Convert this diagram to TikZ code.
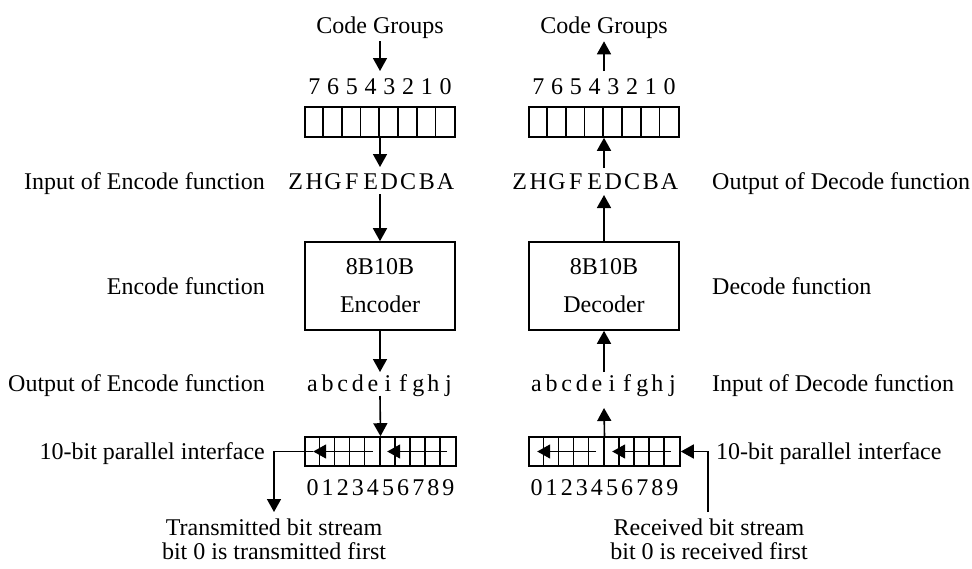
\documentclass[tikz,border=0pt]{standalone}
\usepackage{fontspec}
\setmainfont{Liberation Serif}
\usetikzlibrary{arrows.meta,calc}
\begin{document}
\begin{tikzpicture}[x=1pt,y=-1pt,
  every node/.style={font=\fontsize{24}{28}\selectfont, inner sep=0pt},
  lbl/.style={anchor=base},
  lblE/.style={anchor=base east},
  lblW/.style={anchor=base west},
  ln/.style={line width=1.6pt},
  reg/.style={draw, line width=1.6pt, minimum width=150pt, minimum height=30pt},
  breg/.style={draw, line width=1.6pt, minimum width=151pt, minimum height=29pt},
  box/.style={draw, line width=1.6pt, minimum width=150pt, minimum height=88pt, align=center, font=\fontsize{24}{38}\selectfont},
  arr/.style={line width=1.6pt, -{Triangle[length=13pt,width=14pt]}}]
\useasboundingbox (0,0) rectangle (972,568);

% ---------------- left (encoder) column ----------------
\node[lbl] (cgL) at (380,33) {Code Groups};
\coordinate (tL1) at (380,71);
\draw[arr, shorten <=3pt] (cgL) -- (tL1);
\foreach \d [count=\i from 0] in {7,6,5,4,3,2,1,0}
  \node[lbl] (dTL\i) at (314.4+\i*18.75,94) {\d};
\node[reg] (rTL) at (380,122) {};
\foreach \i in {1,...,7}
  \draw[ln] ($(rTL.north west)+(\i*18.75,0)$) -- ($(rTL.south west)+(\i*18.75,0)$);
\coordinate (tL2) at (380,167);
\draw[arr] (rTL.south) -- (tL2);
\foreach \c [count=\i from 0] in {Z,H,G,F,E,D,C,B,A}
  \node[lbl] (zL\i) at (295.6+\i*18.75,189) {\c};
\coordinate (tL3) at (380,194);
\node[box] (boxL) at (380,286) {8B10B\\Encoder};
\draw[arr] (tL3) -- (boxL.north);
\coordinate (tL4) at (380,372);
\draw[arr] (boxL.south) -- (tL4);
\foreach \c [count=\i from 0] in {a,b,c,d,e,i,f,g,h,j}
  \node[lbl] (bL\i) at (312.55+\i*15.1,391) {\c};
\coordinate (tL5) at (380,396);
\node[breg] (rBL) at (380.5,451.5) {};
\foreach \i in {1,...,9}
  \draw[ln] ($(rBL.north west)+(\i*15.1,0)$) -- ($(rBL.south west)+(\i*15.1,0)$);
\draw[arr] (tL5) -- (rBL.north);
\foreach \d [count=\i from 0] in {0,1,2,3,4,5,6,7,8,9}
  \node[lbl] (nL\i) at (312.55+\i*15.1,495) {\d};
\coordinate (pL0) at ($(rBL.west)+(9,0)$);
\draw[arr] ($(rBL.west)+(69,0)$) -- (pL0);
\draw[arr] ($(rBL.west)+(143,0)$) -- ($(rBL.west)+(83,0)$);
\coordinate (extL) at (274,451.5);
\coordinate (outL) at (274,512);
\draw[arr] (pL0) -- (extL) -- (outL);

% left labels
\node[lblE] (l1) at (265,189) {Input of Encode function};
\node[lblE] (l2) at (265,294) {Encode function};
\node[lblE] (l3) at (265,391) {Output of Encode function};
\node[lblE] (l4) at (265,459) {10-bit parallel interface};
\node[lbl] (l5) at (274,535) {Transmitted bit stream};
\node[lbl] (l6) at (274,559) {bit 0 is transmitted first};

% ---------------- right (decoder) column ----------------
\node[lbl] (cgR) at (604,33) {Code Groups};
\coordinate (tR1) at (604,71);
\draw[arr, shorten >=3pt] (tR1) -- (cgR);
\foreach \d [count=\i from 0] in {7,6,5,4,3,2,1,0}
  \node[lbl] (dTR\i) at (538.4+\i*18.75,94) {\d};
\node[reg] (rTR) at (604,122) {};
\foreach \i in {1,...,7}
  \draw[ln] ($(rTR.north west)+(\i*18.75,0)$) -- ($(rTR.south west)+(\i*18.75,0)$);
\coordinate (tR2) at (604,168);
\draw[arr] (tR2) -- (rTR.south);
\foreach \c [count=\i from 0] in {Z,H,G,F,E,D,C,B,A}
  \node[lbl] (zR\i) at (519.6+\i*18.75,189) {\c};
\coordinate (tR3) at (604,195);
\node[box] (boxR) at (604,286) {8B10B\\Decoder};
\draw[arr] (boxR.north) -- (tR3);
\coordinate (tR4) at (604,372);
\draw[arr] (tR4) -- (boxR.south);
\foreach \c [count=\i from 0] in {a,b,c,d,e,i,f,g,h,j}
  \node[lbl] (bR\i) at (536.55+\i*15.1,391) {\c};
\coordinate (tR5) at (604,408);
\node[breg] (rBR) at (604.5,451.5) {};
\foreach \i in {1,...,9}
  \draw[ln] ($(rBR.north west)+(\i*15.1,0)$) -- ($(rBR.south west)+(\i*15.1,0)$);
\draw[arr] (rBR.north) -- (tR5);
\foreach \d [count=\i from 0] in {0,1,2,3,4,5,6,7,8,9}
  \node[lbl] (nR\i) at (536.55+\i*15.1,495) {\d};
\draw[arr] ($(rBR.west)+(143,0)$) -- ($(rBR.west)+(84,0)$);
\draw[arr] ($(rBR.west)+(68,0)$) -- ($(rBR.west)+(9,0)$);
\coordinate (inR) at (708,512);
\coordinate (extR) at (708,451.5);
\draw[arr] (inR) -- (extR) -- (rBR.east);

% right labels
\node[lblW] (r1) at (712,189) {Output of Decode function};
\node[lblW] (r2) at (712,294) {Decode function};
\node[lblW] (r3) at (712,391) {Input of Decode function};
\node[lblW] (r4) at (716,459) {10-bit parallel interface};
\node[lbl] (r5) at (709,535) {Received bit stream};
\node[lbl] (r6) at (709,559) {bit 0 is received first};
\end{tikzpicture}
\end{document}
